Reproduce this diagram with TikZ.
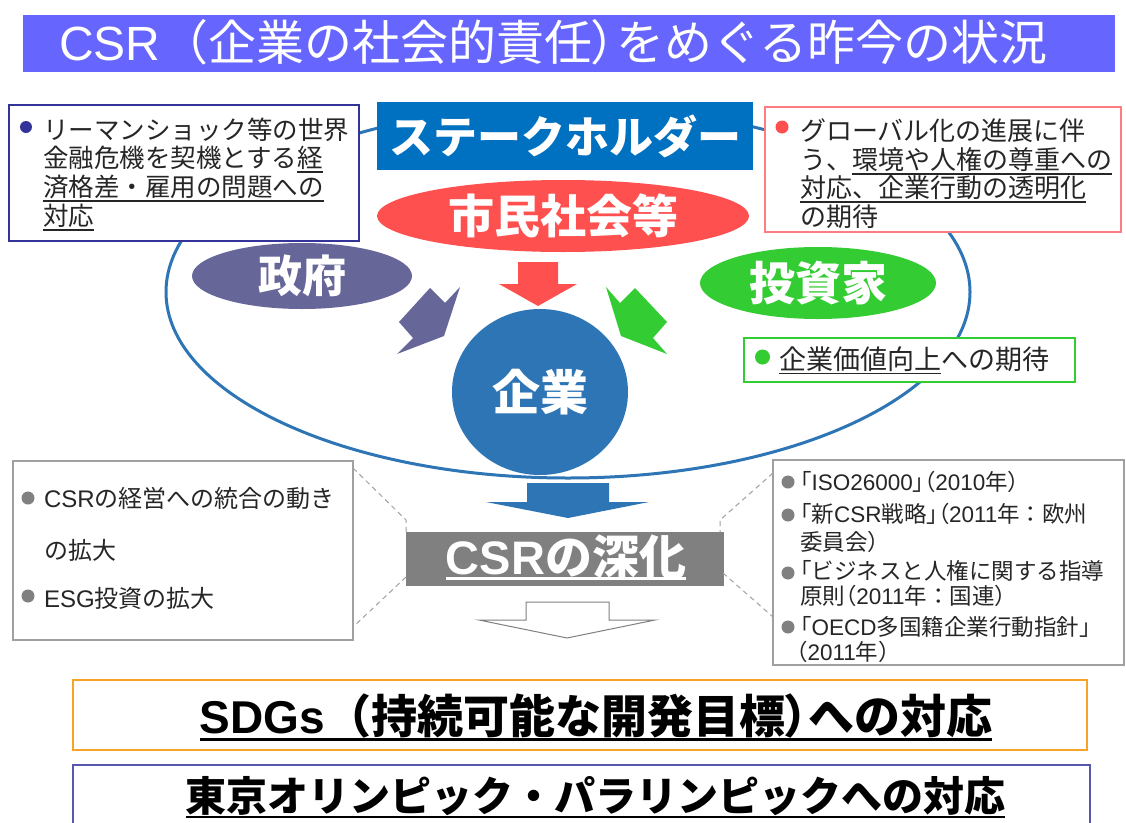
\documentclass[tikz,border=0pt]{standalone}
\usepackage{fontspec}
\setmainfont{Noto Sans CJK JP}
\newfontfamily\lat{Liberation Sans}
\usetikzlibrary{shapes.geometric,calc}
\definecolor{titlebg}{HTML}{6666FF}
\definecolor{shblue}{HTML}{0070C0}
\definecolor{ellblue}{HTML}{2E75B6}
\definecolor{civred}{HTML}{FF5050}
\definecolor{govpur}{HTML}{666699}
\definecolor{invgreen}{HTML}{33CC33}
\definecolor{navy}{HTML}{333399}
\definecolor{pinkline}{HTML}{FF7C80}
\definecolor{bodytxt}{HTML}{262626}
\definecolor{midgray}{HTML}{808080}
\definecolor{framegray}{HTML}{A0A0A0}
\definecolor{sdgorange}{HTML}{F7A328}
\definecolor{tokyoblue}{HTML}{5757B0}
\newcommand\myul[2][0.2em]{\setbox0\hbox{#2}\rlap{\rule[-#1]{\wd0}{0.065em}}\box0}
\newcommand\setfs[1]{\fontsize{#1}{#1}\selectfont}
\newcommand\pp[1]{{\addfontfeature{RawFeature=+palt}#1}}
\begin{document}
\begin{tikzpicture}[x=1pt,y=-1pt,
  every node/.style={inner sep=0pt,outer sep=0pt},
  txtline/.style={anchor=base west,text=bodytxt},
  boxframe/.style={rectangle,draw,fill=white,line width=1.5pt,anchor=north west},
  bdot/.style={circle,fill,minimum size=#1,inner sep=0pt},
  bdot/.default=12pt,
  dashlink/.style={draw=framegray,line width=1pt,dash pattern=on 5pt off 4pt},
  oval/.style={ellipse,inner sep=0pt,text=white,font=\setfs{46}\bfseries},
  tlfont/.style={font=\setfs{25.5}},
  llfont/.style={font=\setfs{24}},
  rlfont/.style={font=\setfs{22.5}},
]
\useasboundingbox (0,0) rectangle (1126,822);
\fill[white] (0,0) rectangle (1126,822);

% title
\node[fill=titlebg,minimum width=1092pt,minimum height=57pt,anchor=north west] (titlebar) at (23,15) {};
\node[anchor=base west,text=white,font=\setfs{48}] (titletext) at (59,60.5) {{\lat CSR}（企業の社会的責任\pp{）}をめぐる昨今の状況};

% big ring
\node[ellipse,draw=ellblue,line width=3pt,minimum width=804pt,minimum height=372pt] (ring) at (568,292) {};

% top-left box
\node[boxframe,draw=navy,minimum width=350pt,minimum height=136pt] (tlbox) at (9,105) {};
\node[bdot,fill=navy] (tldot) at (26,127) {};
\node[txtline,tlfont] (tl1) at (43,139.5) {リーマンショック等の世界};
\node[txtline,tlfont] (tl2) at (43,167.5) {金融危機を契機とする\myul{経}};
\node[txtline,tlfont] (tl3) at (43,196.5) {\myul{済格差・雇用の問題への}};
\node[txtline,tlfont] (tl4) at (43,225.5) {\myul{対応}};

% top-right box
\node[boxframe,draw=pinkline,minimum width=356pt,minimum height=125pt] (trbox) at (765,107) {};
\node[bdot=13pt,fill=civred] (trdot) at (782,127) {};
\node[txtline,font=\setfs{26}] (tr1) at (800,140.5) {グローバル化の進展に伴};
\node[txtline,font=\setfs{26}] (tr2) at (800,169.5) {う、\myul{環境や人権の尊重への}};
\node[txtline,font=\setfs{26}] (tr3) at (800,197.5) {\myul{対応、企業行動の透明化}};
\node[txtline,font=\setfs{26}] (tr4) at (800,226.5) {の期待};

% stakeholders
\node[fill=shblue,minimum width=376pt,minimum height=68pt,text=white,font=\setfs{44}\bfseries] (stake) at (565,136) {ステークホルダー};
\node[oval,fill=civred,minimum width=372pt,minimum height=72pt] (civil) at (563,216) {市民社会等};
\node[oval,fill=govpur,minimum width=220pt,minimum height=66pt,font=\setfs{44}\bfseries] (gov) at (302,276) {政府};
\node[oval,fill=invgreen,minimum width=236pt,minimum height=72pt] (inv) at (818,283) {投資家};
\node[oval,fill=ellblue,minimum width=176pt,minimum height=166pt,font=\setfs{48}\bfseries] (corp) at (540,392) {企業};

% block arrows toward the company
\fill[civred] (518,262) -- (558,262) -- (558,284) -- (577,284) -- (538,306) -- (499,284) -- (518,284) -- cycle;
\fill[govpur] (430,288) -- (445,303) -- (460,287) -- (444,336) -- (397,354) -- (413,338) -- (399,322) -- cycle;
\fill[invgreen] (635,288) -- (620,303) -- (606,287) -- (621,336) -- (667,354) -- (653,338) -- (667,322) -- cycle;

% investor expectation box
\node[boxframe,draw=invgreen,line width=2pt,minimum width=331pt,minimum height=44pt] (valbox) at (744,338) {};
\node[bdot=15pt,fill=invgreen] (valdot) at (762.5,357) {};
\node[txtline,font=\setfs{27}] (valtext) at (779,369) {\myul{企業価値向上}への期待};

% arrow down to CSR deepening
\fill[ellblue] (527,483) -- (609,483) -- (609,502) -- (649,502) -- (568,518) -- (486,502) -- (527,502) -- cycle;

% lower-left box
\node[boxframe,draw=framegray,minimum width=340pt,minimum height=179pt] (lbox) at (13,461) {};
\node[bdot=13pt,fill=midgray] (lldot1) at (28,498) {};
\node[bdot=13pt,fill=midgray] (lldot2) at (28,596) {};
\node[txtline,llfont] (ll1) at (44,507) {{\lat CSR}の経営への統合の動き};
\node[txtline,llfont] (ll2) at (44,559) {の拡大};
\node[txtline,llfont] (ll3) at (44,607) {{\lat ESG}投資の拡大};

% lower-right box
\node[boxframe,draw=framegray,minimum width=351pt,minimum height=205pt] (rbox) at (773,460) {};
\node[bdot=13pt,fill=midgray] (rldot1) at (788,482) {};
\node[bdot=13pt,fill=midgray] (rldot2) at (788,515) {};
\node[bdot=13pt,fill=midgray] (rldot3) at (788,573) {};
\node[bdot=13pt,fill=midgray] (rldot4) at (788,627) {};
\node[txtline,rlfont] (rl1) at (789,490) {「{\lat ISO26000}\pp{」（}{\lat 2010}年）};
\node[txtline,rlfont] (rl2) at (789,522) {「新{\lat CSR}戦略\pp{」（}{\lat 2011}年：欧州};
\node[txtline,rlfont] (rl3) at (800,550) {委員会）};
\node[txtline,rlfont] (rl4) at (789,579) {「ビジネスと人権に関する指導};
\node[txtline,rlfont] (rl5) at (800,604) {原則\pp{（}{\lat 2011}年：国連）};
\node[txtline,rlfont] (rl6) at (789,635) {「{\lat OECD}多国籍企業行動指針」};
\node[txtline,rlfont] (rl7) at (785,660) {（{\lat 2011}年）};

% CSR deepening box
\node[fill=midgray,minimum width=318pt,minimum height=54pt] (deep) at (565,559) {};
\node[anchor=base,text=white,font=\setfs{47}\bfseries] (deeptext) at (566,574) {\myul[0.13em]{{\lat CSR}の深化}};

% dashed callout links
\draw[dashlink] ($(lbox.north east)+(0,7)$) -- ($(deep.north west)+(0,-12)$) -- (deep.north west);
\draw[dashlink] ($(deep.south west)+(0,-9)$) -- ($(lbox.south east)+(0,-13)$);
\draw[dashlink] ($(rbox.north west)+(0,13)$) -- ($(deep.north east)+(-4,-12)$) -- ($(deep.north east)+(-4,0)$);
\draw[dashlink] ($(deep.south east)+(-1,-13)$) -- ($(rbox.south west)+(0,-48)$);

% hollow arrow
\draw[draw=midgray,fill=white,line width=1pt] (526,602) -- (609,602) -- (609,620) -- (655,620) -- (567,638) -- (479,620) -- (526,620) -- cycle;

% bottom boxes
\node[boxframe,draw=sdgorange,minimum width=1014pt,minimum height=70pt] (sdgbox) at (73,680) {};
\node[anchor=base,text=black,font=\setfs{46}\bfseries] (sdgtext) at (596,733) {\myul[0.18em]{{\lat SDGs}（持続可能な開発目標\pp{）}への対応}};
\node[boxframe,draw=tokyoblue,minimum width=1017pt,minimum height=80pt] (tokyobox) at (73,765) {};
\node[anchor=base,text=black,font=\setfs{41}\bfseries] (tokyotext) at (595.5,811) {\myul[0.18em]{東京オリンピック・パラリンピックへの対応}};
\end{tikzpicture}
\end{document}
